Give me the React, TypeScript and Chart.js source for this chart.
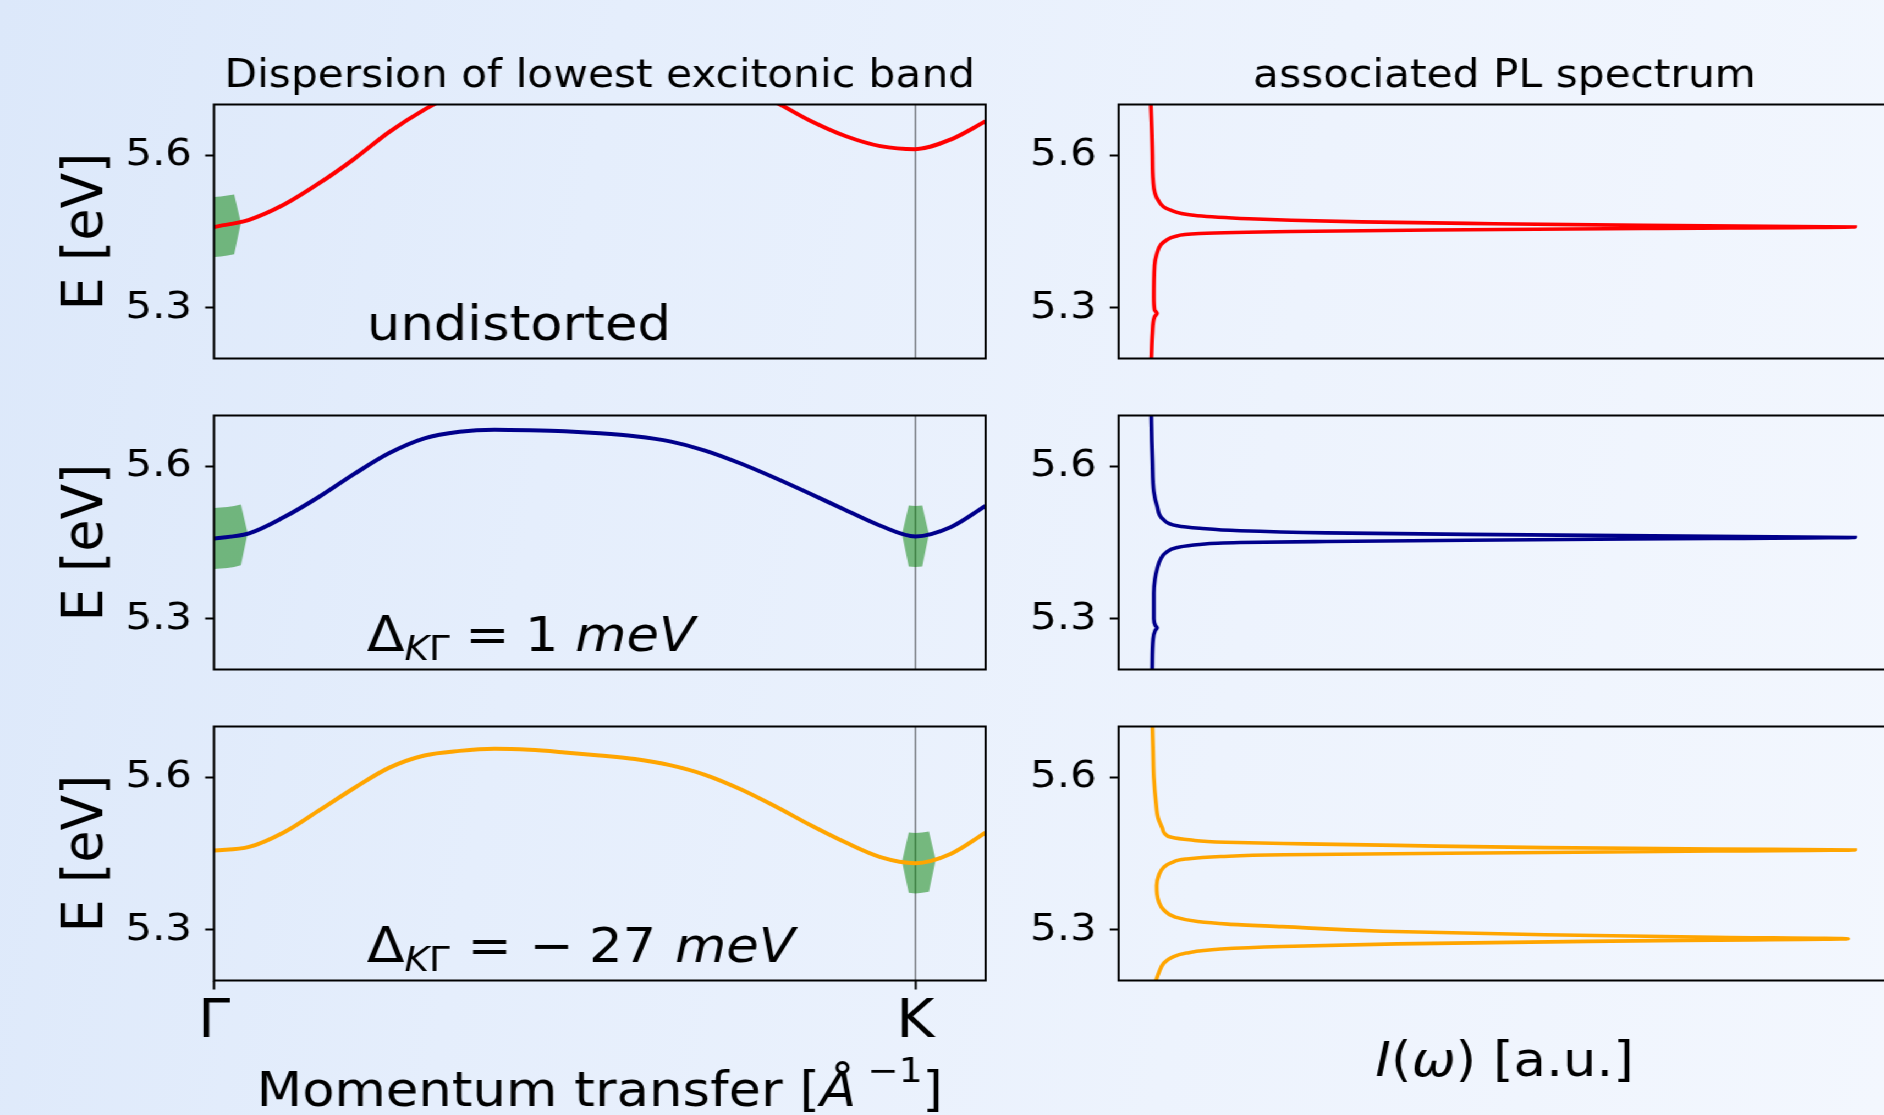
import React, { useEffect, useRef } from "react";
import { Chart, registerables } from "chart.js";

Chart.register(...registerables);

// ------------------------------------------------------------------ data
// momentum transfer grid (Γ = 0, K = 1)
const kGrid = [0, 0.05, 0.1, 0.15, 0.2, 0.25, 0.3, 0.35, 0.4, 0.45, 0.5, 0.55, 0.6, 0.65, 0.7, 0.75, 0.8, 0.85, 0.9, 0.95, 1.0, 1.05, 1.1];
const kTickValues = [0, 1.0];
const kTickLabels = ["Γ", "K"];
const kPointPosition = 1.0;
const energyTicks = [5.3, 5.6];

// lowest excitonic band dispersion [eV]
const energyUndistorted = [5.459, 5.473, 5.503, 5.545, 5.593, 5.646, 5.69, 5.725, 5.75, 5.765, 5.772, 5.775, 5.772, 5.765, 5.752, 5.735, 5.705, 5.668, 5.638, 5.618, 5.612, 5.631, 5.667];
const energyDelta1 = [5.458, 5.468, 5.5, 5.54, 5.585, 5.626, 5.655, 5.668, 5.672, 5.671, 5.669, 5.665, 5.659, 5.649, 5.631, 5.606, 5.577, 5.546, 5.514, 5.483, 5.462, 5.48, 5.522];
const energyDeltaM27 = [5.456, 5.463, 5.492, 5.535, 5.579, 5.619, 5.643, 5.652, 5.656, 5.654, 5.649, 5.643, 5.636, 5.624, 5.605, 5.577, 5.543, 5.506, 5.472, 5.443, 5.431, 5.449, 5.491];

// occupied states (green bands): k, energy, half-width
const undistGammaK = [0, 0.0096, 0.0192, 0.0288, 0.0384];
const undistGammaE = [5.459, 5.46, 5.462, 5.464, 5.467];
const undistGammaW = [0.059, 0.059, 0.059, 0.059, 0];

const delta1GammaK = [0, 0.0096, 0.0192, 0.0288, 0.0384, 0.048];
const delta1GammaE = [5.458, 5.459, 5.46, 5.462, 5.465, 5.468];
const delta1GammaW = [0.06, 0.06, 0.06, 0.06, 0.06, 0];

const delta1KK = [0.9808, 0.9904, 1.0, 1.0096, 1.0192];
const delta1KE = [5.466, 5.463, 5.462, 5.463, 5.466];
const delta1KW = [0, 0.06, 0.06, 0.06, 0];

const deltaM27KK = [0.9808, 0.9904, 1.0, 1.0096, 1.0192, 1.0288];
const deltaM27KE = [5.434, 5.432, 5.431, 5.432, 5.434, 5.437];
const deltaM27KW = [0, 0.0595, 0.0595, 0.0595, 0.0595, 0];

// PL spectra: energy [eV] and intensity [a.u.]
const plEnergyUndist = [5.2, 5.25, 5.282, 5.289, 5.296, 5.32, 5.383, 5.405, 5.424, 5.433, 5.44, 5.446, 5.45, 5.453, 5.456, 5.459, 5.462, 5.466, 5.469, 5.472, 5.475, 5.481, 5.493, 5.512, 5.551, 5.6, 5.65, 5.7];
const plIntensityUndist = [0.0014, 0.003, 0.006, 0.0095, 0.006, 0.005, 0.006, 0.009, 0.015, 0.023, 0.035, 0.07, 0.2, 0.4, 0.7, 1.0, 0.7, 0.45, 0.3, 0.2, 0.14, 0.067, 0.027, 0.011, 0.004, 0.003, 0.002, 0.0007];

const plEnergyDelta1 = [5.2, 5.26, 5.277, 5.282, 5.287, 5.3, 5.35, 5.378, 5.4, 5.417, 5.43, 5.44, 5.446, 5.45, 5.452, 5.4545, 5.458, 5.46, 5.462, 5.466, 5.469, 5.473, 5.478, 5.483, 5.496, 5.522, 5.55, 5.61, 5.65, 5.7];
const plIntensityDelta1 = [0.0026, 0.004, 0.007, 0.0096, 0.007, 0.005, 0.005, 0.0066, 0.01, 0.0145, 0.022, 0.038, 0.07, 0.127, 0.25, 0.45, 0.8, 1.0, 0.8, 0.45, 0.25, 0.127, 0.07, 0.038, 0.018, 0.0096, 0.005, 0.003, 0.002, 0.0013];

const plEnergyDeltaM27 = [5.2, 5.215, 5.234, 5.245, 5.254, 5.262, 5.267, 5.272, 5.277, 5.2795, 5.282, 5.285, 5.29, 5.297, 5.306, 5.311, 5.316, 5.325, 5.339, 5.355, 5.37, 5.387, 5.407, 5.423, 5.432, 5.439, 5.444, 5.4475, 5.452, 5.455, 5.457, 5.459, 5.4615, 5.466, 5.469, 5.472, 5.477, 5.482, 5.49, 5.5, 5.52, 5.55, 5.6, 5.65, 5.7];
const plIntensityDeltaM27 = [0.008, 0.012, 0.019, 0.03, 0.051, 0.1, 0.187, 0.35, 0.62, 0.8, 0.99, 0.8, 0.56, 0.33, 0.187, 0.11, 0.067, 0.035, 0.019, 0.012, 0.0095, 0.009, 0.012, 0.019, 0.03, 0.05, 0.1, 0.19, 0.56, 0.8, 1.0, 0.8, 0.56, 0.35, 0.22, 0.107, 0.055, 0.03, 0.02, 0.017, 0.011, 0.008, 0.005, 0.004, 0.003];

// ------------------------------------------------------------------ layout / style
const S = 1.1; // horizontal stretch of the whole figure
const E_MIN = 5.2;
const E_MAX = 5.7;
const K_MAX = 1.1;
const I_MIN = -0.045;
const I_MAX = 1.05;

const FONT = '"DejaVu Sans", "Noto Sans", sans-serif';
const fnt = (size: number, italic = false) => `${italic ? "italic " : ""}${size}px ${FONT}`;
const GREEN = "rgba(0,128,0,0.5)";
const COLORS = ["#ff0000", "#00008b", "#ffa500"];

const LEFT = { left: 0, width: 910, yAxisW: 194.5, padRight: 14 };
const RIGHT = { left: 910, width: 830, yAxisW: 106.9, padRight: 21.5 };
const ROWS = [
  { top: 0, height: 390, padTop: 104.5, padBottom: 31.5 },
  { top: 390, height: 310, padTop: 25.5, padBottom: 30.5 },
  { top: 700, height: 415, padTop: 26.5, padBottom: 134.5 },
];

type Seg = { t?: string; font?: string; dy?: number; gap?: number };

function richWidth(ctx: CanvasRenderingContext2D, segs: Seg[]) {
  let w = 0;
  for (const s of segs) {
    if (s.gap) w += s.gap;
    if (s.t) {
      ctx.font = s.font!;
      w += ctx.measureText(s.t).width;
    }
  }
  return w;
}

function drawRich(ctx: CanvasRenderingContext2D, segs: Seg[], x: number, y: number, align: "left" | "center") {
  ctx.save();
  ctx.fillStyle = "#000";
  ctx.textBaseline = "alphabetic";
  ctx.textAlign = "left";
  let cx = align === "center" ? x - richWidth(ctx, segs) / 2 : x;
  for (const s of segs) {
    if (s.gap) cx += s.gap;
    if (s.t) {
      ctx.font = s.font!;
      ctx.fillText(s.t, cx, y + (s.dy || 0));
      cx += ctx.measureText(s.t).width;
    }
  }
  ctx.restore();
}

const ANN = 48;
const SUB = 34;
const annotations: Seg[][] = [
  [{ t: "undistorted", font: fnt(ANN) }],
  [
    { t: "Δ", font: fnt(ANN + 2) },
    { t: "K", font: fnt(SUB, true), dy: 9 },
    { t: "Γ", font: fnt(SUB), dy: 9 },
    { gap: 14 },
    { t: "=", font: fnt(ANN) },
    { gap: 14 },
    { t: "1", font: fnt(ANN) },
    { gap: 15 },
    { t: "meV", font: fnt(ANN, true) },
  ],
  [
    { t: "Δ", font: fnt(ANN + 2) },
    { t: "K", font: fnt(SUB, true), dy: 9 },
    { t: "Γ", font: fnt(SUB), dy: 9 },
    { gap: 16 },
    { t: "=", font: fnt(ANN) },
    { gap: 16 },
    { t: "−", font: fnt(ANN) },
    { gap: 14 },
    { t: "27", font: fnt(ANN) },
    { gap: 17 },
    { t: "meV", font: fnt(ANN, true) },
  ],
];
const ANNOT_K = 0.218;
const ANNOT_E = 5.237;

const momentumLabel: Seg[] = [
  { t: "Momentum transfer [", font: fnt(48) },
  { t: "Å", font: fnt(48, true) },
  { gap: 10 },
  { t: "−1", font: fnt(34), dy: -24 },
  { t: "]", font: fnt(48) },
];
const intensityLabel: Seg[] = [
  { t: "I", font: fnt(48, true) },
  { t: "(", font: fnt(48) },
  { t: "ω", font: fnt(48, true) },
  { t: ") [a.u.]", font: fnt(48) },
];

type Extras = {
  title?: string;
  titleY?: number;
  yLabel?: boolean;
  annotation?: Seg[];
  xLabel?: Seg[];
  xLabelY?: number;
  kLine?: boolean;
};

function panelPlugin(ex: Extras) {
  return {
    id: "panelExtras",
    beforeDatasetsDraw(chart: any) {
      if (!ex.kLine) return;
      const { ctx, chartArea } = chart;
      const x = chart.scales.x.getPixelForValue(kPointPosition);
      ctx.save();
      ctx.strokeStyle = "rgba(0,0,0,0.6)";
      ctx.lineWidth = 1.2;
      ctx.beginPath();
      ctx.moveTo(x, chartArea.top);
      ctx.lineTo(x, chartArea.bottom);
      ctx.stroke();
      ctx.restore();
    },
    afterDatasetsDraw(chart: any) {
      const { ctx, chartArea } = chart;
      ctx.save();
      ctx.strokeStyle = "#000";
      ctx.lineWidth = 2;
      ctx.strokeRect(chartArea.left, chartArea.top, chartArea.right - chartArea.left, chartArea.bottom - chartArea.top);
      ctx.restore();
    },
    afterDraw(chart: any) {
      const { ctx, chartArea } = chart;
      const cx = (chartArea.left + chartArea.right) / 2;
      if (ex.title) {
        drawRich(ctx, [{ t: ex.title, font: fnt(38.5) }], cx, ex.titleY!, "center");
      }
      if (ex.yLabel) {
        ctx.save();
        ctx.translate(92.5, (chartArea.top + chartArea.bottom) / 2);
        ctx.rotate(-Math.PI / 2);
        ctx.font = fnt(52);
        ctx.fillStyle = "#000";
        ctx.textAlign = "center";
        ctx.textBaseline = "alphabetic";
        ctx.fillText("E [eV]", 0, 0);
        ctx.restore();
      }
      if (ex.annotation) {
        const x = chart.scales.x.getPixelForValue(ANNOT_K);
        const y = chart.scales.y.getPixelForValue(ANNOT_E);
        drawRich(ctx, ex.annotation, x, y, "left");
      }
      if (ex.xLabel) {
        drawRich(ctx, ex.xLabel, cx, ex.xLabelY!, "center");
      }
    },
  };
}

function yAxis(width: number) {
  return {
    type: "linear",
    position: "left",
    min: E_MIN,
    max: E_MAX,
    afterBuildTicks: (s: any) => {
      s.ticks = energyTicks.map((v) => ({ value: v }));
    },
    afterFit: (s: any) => {
      s.width = width;
      s.paddingTop = 0;
      s.paddingBottom = 0;
      s.paddingLeft = 0;
      s.paddingRight = 0;
    },
    ticks: {
      callback: (v: any) => Number(v).toFixed(1),
      font: { family: FONT, size: 38 },
      color: "#000",
      padding: 12,
    },
    grid: { display: true, drawOnChartArea: false, drawTicks: true, tickLength: 8, tickWidth: 2, tickColor: "#000" },
    border: { display: false },
  };
}

function bandPolygon(ks: number[], es: number[], ws: number[]) {
  const upper = ks.map((k, i) => ({ x: k, y: es[i] + ws[i] }));
  const lower = ks.map((k, i) => ({ x: k, y: es[i] - ws[i] })).reverse();
  return upper.concat(lower);
}

const leftBands = [
  [bandPolygon(undistGammaK, undistGammaE, undistGammaW)],
  [bandPolygon(delta1GammaK, delta1GammaE, delta1GammaW), bandPolygon(delta1KK, delta1KE, delta1KW)],
  [bandPolygon(deltaM27KK, deltaM27KE, deltaM27KW)],
];
const leftEnergies = [energyUndistorted, energyDelta1, energyDeltaM27];
const plEnergies = [plEnergyUndist, plEnergyDelta1, plEnergyDeltaM27];
const plIntensities = [plIntensityUndist, plIntensityDelta1, plIntensityDeltaM27];

function leftConfig(r: number): any {
  const row = ROWS[r];
  const bottom = r === 2;
  const xAxis: any = bottom
    ? {
        type: "linear",
        position: "bottom",
        min: 0,
        max: K_MAX,
        afterBuildTicks: (s: any) => {
          s.ticks = kTickValues.map((v) => ({ value: v }));
        },
        afterFit: (s: any) => {
          s.height = row.padBottom;
          s.paddingLeft = 0;
          s.paddingRight = 0;
          s.paddingTop = 0;
          s.paddingBottom = 0;
        },
        ticks: {
          callback: (_v: any, i: number) => kTickLabels[i],
          font: { family: FONT, size: 53 },
          color: "#000",
          padding: 2,
          autoSkip: false,
          maxRotation: 0,
          minRotation: 0,
        },
        grid: { display: true, drawOnChartArea: false, drawTicks: true, tickLength: 9, tickWidth: 2, tickColor: "#000" },
        border: { display: false },
      }
    : { type: "linear", min: 0, max: K_MAX, display: false };
  return {
    type: "line",
    data: {
      datasets: [
        {
          data: kGrid.map((k, i) => ({ x: k, y: leftEnergies[r][i] })),
          borderColor: COLORS[r],
          borderWidth: 4,
          pointRadius: 0,
          cubicInterpolationMode: "monotone",
          fill: false,
          clip: 0,
        },
        ...leftBands[r].map((poly) => ({
          data: poly,
          borderWidth: 0,
          pointRadius: 0,
          backgroundColor: GREEN,
          fill: "shape",
          tension: 0,
          clip: 0,
        })),
      ],
    },
    options: {
      animation: false,
      responsive: false,
      events: [],
      layout: { padding: { top: row.padTop, bottom: bottom ? 0 : row.padBottom, left: 0, right: LEFT.padRight } },
      plugins: { legend: { display: false }, tooltip: { enabled: false }, title: { display: false } },
      scales: { x: xAxis, y: yAxis(LEFT.yAxisW) },
    },
    plugins: [
      panelPlugin({
        title: r === 0 ? "Dispersion of lowest excitonic band" : undefined,
        titleY: 87,
        yLabel: true,
        annotation: annotations[r],
        xLabel: bottom ? momentumLabel : undefined,
        xLabelY: 406,
        kLine: true,
      }),
    ],
  };
}

function rightConfig(r: number): any {
  const row = ROWS[r];
  return {
    type: "line",
    data: {
      datasets: [
        {
          data: plEnergies[r].map((e, i) => ({ x: plIntensities[r][i], y: e })),
          borderColor: COLORS[r],
          borderWidth: 3.6,
          pointRadius: 0,
          cubicInterpolationMode: "monotone",
          fill: false,
          clip: 0,
        },
      ],
    },
    options: {
      animation: false,
      responsive: false,
      events: [],
      indexAxis: "y",
      layout: { padding: { top: row.padTop, bottom: row.padBottom, left: 0, right: RIGHT.padRight } },
      plugins: { legend: { display: false }, tooltip: { enabled: false }, title: { display: false } },
      scales: {
        x: { type: "linear", min: I_MIN, max: I_MAX, display: false },
        y: yAxis(RIGHT.yAxisW),
      },
    },
    plugins: [
      panelPlugin({
        title: r === 0 ? "associated PL spectrum" : undefined,
        titleY: 87,
        xLabel: r === 2 ? intensityLabel : undefined,
        xLabelY: 376,
      }),
    ],
  };
}

function PanelCanvas(props: { make: () => any; left: number; top: number; width: number; height: number }) {
  const ref = useRef<HTMLCanvasElement>(null);
  useEffect(() => {
    const chart = new Chart(ref.current as HTMLCanvasElement, props.make());
    return () => chart.destroy();
  }, []);
  return (
    <canvas
      ref={ref}
      width={props.width}
      height={props.height}
      style={{ position: "absolute", left: props.left, top: props.top, width: props.width, height: props.height }}
    />
  );
}

export default function App() {
  const panels: any[] = [];
  ROWS.forEach((row, r) => {
    panels.push({ key: `L${r}`, make: () => leftConfig(r), left: LEFT.left, top: row.top, width: LEFT.width, height: row.height });
    panels.push({ key: `R${r}`, make: () => rightConfig(r), left: RIGHT.left, top: row.top, width: RIGHT.width, height: row.height });
  });
  return (
    <div
      style={{
        position: "fixed",
        left: 0,
        top: 0,
        width: 1884,
        height: 1115,
        overflow: "hidden",
        background: "linear-gradient(100deg, #dce8fa 0%, #e5eefc 30%, #edf3fd 65%, #f3f7fe 100%)",
      }}
    >
      <div
        style={{
          position: "absolute",
          left: 0,
          top: 0,
          width: LEFT.width + RIGHT.width,
          height: 1115,
          transform: `scaleX(${S})`,
          transformOrigin: "0 0",
        }}
      >
        {panels.map((p) => (
          <PanelCanvas key={p.key} make={p.make} left={p.left} top={p.top} width={p.width} height={p.height} />
        ))}
      </div>
    </div>
  );
}
